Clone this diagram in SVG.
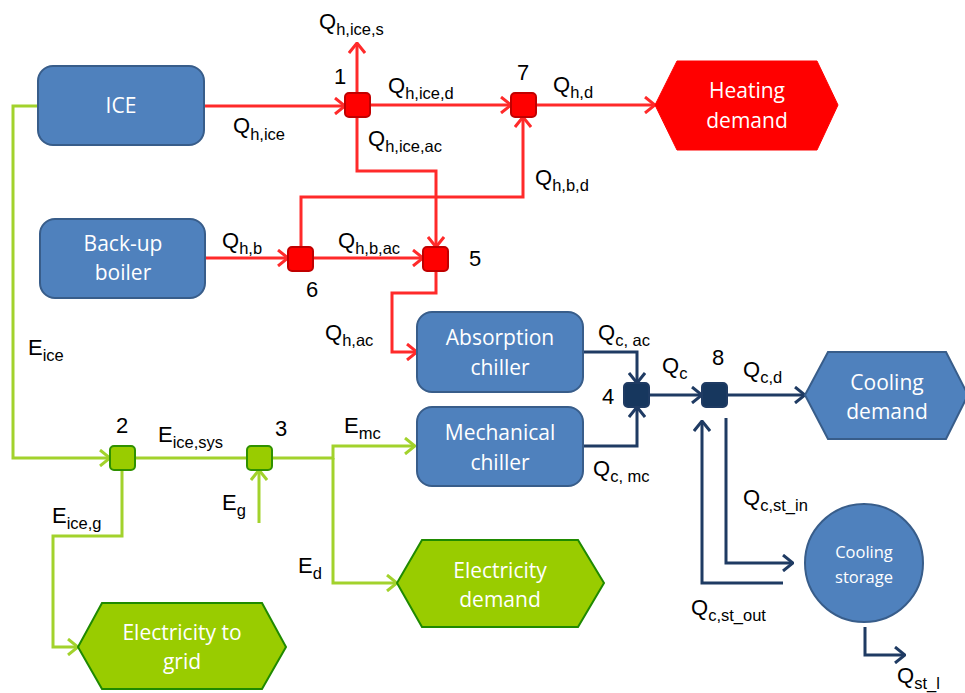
<svg xmlns="http://www.w3.org/2000/svg" width="965" height="693" viewBox="0 0 965 693">
<style>
.box{fill:#4f81bd;stroke:#385d8a;stroke-width:2}
.bt{font-family:"Open Sans","Noto Sans",sans-serif;font-size:21px;fill:#fff;text-anchor:middle}
.lb{font-family:"Liberation Sans",Arial,sans-serif;font-size:22px;fill:#000}
.sb{font-size:16.5px}
.r{fill:none;stroke:#ff2a2a;stroke-width:3}
.g{fill:none;stroke:#a2d22c;stroke-width:3}
.n{fill:none;stroke:#1f3b63;stroke-width:3}
.jr{fill:#ff0000;stroke:#c00000;stroke-width:2}
.jg{fill:#99cc00;stroke:#2f9100;stroke-width:2}
.jn{fill:#17375e;stroke:#1f3b63;stroke-width:2}
</style>
<defs>
<marker id="ar" markerUnits="userSpaceOnUse" viewBox="0 0 12 18" refX="11" refY="9" markerWidth="12" markerHeight="18" orient="auto"><path d="M1,1 L11,9 L1,17" fill="none" stroke="#ff2a2a" stroke-width="3"/></marker>
<marker id="ag" markerUnits="userSpaceOnUse" viewBox="0 0 12 18" refX="11" refY="9" markerWidth="12" markerHeight="18" orient="auto"><path d="M1,1 L11,9 L1,17" fill="none" stroke="#a2d22c" stroke-width="3"/></marker>
<marker id="an" markerUnits="userSpaceOnUse" viewBox="0 0 12 18" refX="11" refY="9" markerWidth="12" markerHeight="18" orient="auto"><path d="M1,1 L11,9 L1,17" fill="none" stroke="#1f3b63" stroke-width="3"/></marker>
</defs>
<rect width="965" height="693" fill="#fff"/>
<g id="connectors">
<path class="r" d="M204,106 H345" marker-end="url(#ar)"/>
<path class="r" d="M370,105 H511" marker-end="url(#ar)"/>
<path class="r" d="M357,93 V43" marker-end="url(#ar)"/>
<path class="r" d="M357,117 V171 H436 V247" marker-end="url(#ar)"/>
<path class="r" d="M205,258 H288" marker-end="url(#ar)"/>
<path class="r" d="M313,258 H423" marker-end="url(#ar)"/>
<path class="r" d="M301,247 V197 H523 V117" marker-end="url(#ar)"/>
<path class="r" d="M536,105 H655" marker-end="url(#ar)"/>
<path class="r" d="M436,271 V293 H392 V352 H417" marker-end="url(#ar)"/>
<path class="g" d="M38,106 H13 V458 H110" marker-end="url(#ag)"/>
<path class="g" d="M135,458 H247"/>
<path class="g" d="M259,523 V470" marker-end="url(#ag)"/>
<path class="g" d="M271,458 H333 V446 H415" marker-end="url(#ag)"/>
<path class="g" d="M333,458 V583 H397" marker-end="url(#ag)"/>
<path class="g" d="M122,470 V536 H53 V647 H78" marker-end="url(#ag)"/>
<path class="n" d="M583,352 H637 V383" marker-end="url(#an)"/>
<path class="n" d="M583,446 H637 V407" marker-end="url(#an)"/>
<path class="n" d="M649,395 H702" marker-end="url(#an)"/>
<path class="n" d="M728,395 H805" marker-end="url(#an)"/>
<path class="n" d="M726,418 V563 H793" marker-end="url(#an)"/>
<path class="n" d="M783,583 H702 V421" marker-end="url(#an)"/>
<path class="n" d="M865,627 V655 H905" marker-end="url(#an)"/>
</g>
<g id="ice"><rect class="box" x="38" y="66" width="166" height="79" rx="15"/><text class="bt" x="121" y="113">ICE</text></g>
<g id="boiler"><rect class="box" x="40" y="219" width="165" height="79" rx="15"/><text class="bt" x="123" y="251">Back-up</text><text class="bt" x="123" y="280">boiler</text></g>
<g id="absorption"><rect class="box" x="417" y="312" width="166" height="80" rx="15"/><text class="bt" x="500" y="345">Absorption</text><text class="bt" x="500" y="375">chiller</text></g>
<g id="mechanical"><rect class="box" x="417" y="407" width="166" height="79" rx="15"/><text class="bt" x="500" y="440">Mechanical</text><text class="bt" x="500" y="470">chiller</text></g>
<g id="heating"><polygon points="655,105 677,61 817,61 838,105 817,150 677,150" fill="#ff0000" stroke="#ff0000" stroke-width="1"/><text class="bt" x="747" y="98">Heating</text><text class="bt" x="747" y="128">demand</text></g>
<g id="cooling"><polygon points="805,395 828,352 946,352 968,395 946,439 828,439" class="box"/><text class="bt" x="887" y="390">Cooling</text><text class="bt" x="887" y="419">demand</text></g>
<g id="eldemand"><polygon points="397,583 422,540 578,540 604,583 578,627 422,627" fill="#99cc00" stroke="#1f8a00" stroke-width="2"/><text class="bt" x="500" y="578">Electricity</text><text class="bt" x="500" y="607">demand</text></g>
<g id="elgrid"><polygon points="78,647 102,603 262,603 286,647 262,689 102,689" fill="#99cc00" stroke="#1f8a00" stroke-width="2"/><text class="bt" x="182" y="640">Electricity to</text><text class="bt" x="182" y="669">grid</text></g>
<g id="storage"><circle class="box" cx="864" cy="563" r="59"/><text class="bt" style="font-size:16.5px" x="864" y="558">Cooling</text><text class="bt" style="font-size:16.5px" x="864" y="583">storage</text></g>
<g id="j1"><rect class="jr" x="345" y="93" width="25" height="24" rx="4"/></g>
<g id="j7"><rect class="jr" x="511" y="93" width="25" height="24" rx="4"/></g>
<g id="j6"><rect class="jr" x="288" y="247" width="25" height="24" rx="4"/></g>
<g id="j5"><rect class="jr" x="423" y="247" width="25" height="24" rx="4"/></g>
<g id="j2"><rect class="jg" x="110" y="446" width="25" height="24" rx="4"/></g>
<g id="j3"><rect class="jg" x="247" y="446" width="25" height="24" rx="4"/></g>
<g id="j4"><rect class="jn" x="624" y="383" width="25" height="24" rx="4"/></g>
<g id="j8"><rect class="jn" x="702" y="383" width="25" height="24" rx="4"/></g>
<g id="labels" class="lb">
<text class="lb" x="334" y="84">1</text>
<text class="lb" x="517" y="80">7</text>
<text class="lb" x="469" y="266">5</text>
<text class="lb" x="306" y="297">6</text>
<text class="lb" x="116" y="433">2</text>
<text class="lb" x="275" y="436">3</text>
<text class="lb" x="602" y="404">4</text>
<text class="lb" x="712" y="365">8</text>
<text class="lb" x="319" y="29">Q<tspan class="sb" dy="6">h,ice,s</tspan></text>
<text class="lb" x="233" y="133">Q<tspan class="sb" dy="7">h,ice</tspan></text>
<text class="lb" x="388" y="93">Q<tspan class="sb" dy="6">h,ice,d</tspan></text>
<text class="lb" x="368" y="146">Q<tspan class="sb" dy="6">h,ice,ac</tspan></text>
<text class="lb" x="553" y="92">Q<tspan class="sb" dy="6">h,d</tspan></text>
<text class="lb" x="535" y="185">Q<tspan class="sb" dy="6">h,b,d</tspan></text>
<text class="lb" x="222" y="248">Q<tspan class="sb" dy="6">h,b</tspan></text>
<text class="lb" x="338" y="248">Q<tspan class="sb" dy="6">h,b,ac</tspan></text>
<text class="lb" x="325" y="340">Q<tspan class="sb" dy="6">h,ac</tspan></text>
<text class="lb" x="28" y="355">E<tspan class="sb" dy="6">ice</tspan></text>
<text class="lb" x="158" y="442">E<tspan class="sb" dy="6">ice,sys</tspan></text>
<text class="lb" x="222" y="510">E<tspan class="sb" dy="6">g</tspan></text>
<text class="lb" x="344" y="433">E<tspan class="sb" dy="6">mc</tspan></text>
<text class="lb" x="298" y="573">E<tspan class="sb" dy="6">d</tspan></text>
<text class="lb" x="52" y="523">E<tspan class="sb" dy="6">ice,g</tspan></text>
<text class="lb" x="598" y="340">Q<tspan class="sb" dy="6">c, ac</tspan></text>
<text class="lb" x="593" y="476">Q<tspan class="sb" dy="6">c, mc</tspan></text>
<text class="lb" x="662" y="373">Q<tspan class="sb" dy="6">c</tspan></text>
<text class="lb" x="743" y="377">Q<tspan class="sb" dy="6">c,d</tspan></text>
<text class="lb" x="743" y="505">Q<tspan class="sb" dy="6">c,st_in</tspan></text>
<text class="lb" x="691" y="615">Q<tspan class="sb" dy="6">c,st_out</tspan></text>
<text class="lb" x="897" y="683">Q<tspan class="sb" dy="6">st_l</tspan></text>
</g>
</svg>
